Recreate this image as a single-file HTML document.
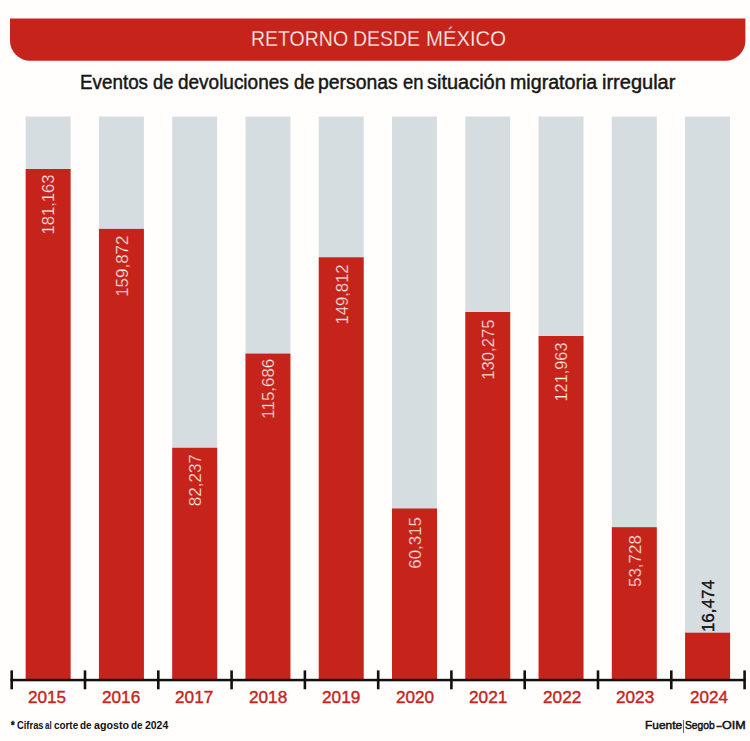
<!DOCTYPE html>
<html lang="es"><head><meta charset="utf-8"><title>Retorno desde México</title>
<style>
html,body{margin:0;padding:0;}
body{width:750px;height:741px;background:#fffefd;position:relative;overflow:hidden;font-family:"Liberation Sans",sans-serif;}
.abs{position:absolute;}
.t{position:absolute;white-space:nowrap;line-height:1;transform-origin:0 0;}
.title{top:28.1px;font-size:22.3px;color:#fff6f0;-webkit-text-stroke:0.3px #c6231b;}
.sub{top:72.7px;font-size:19.6px;color:#161616;-webkit-text-stroke:0.45px #161616;}
.rot{position:absolute;width:0;height:0;transform-origin:0 0;transform:rotate(-90deg);}
.rot span{position:absolute;right:0;top:0;white-space:nowrap;line-height:1;font-size:17.3px;color:#fff6f0;-webkit-text-stroke:0.3px #c6231b;transform-origin:100% 0;}
.rot.k span{color:#111;-webkit-text-stroke:0.45px #111;}
.yr{top:689.1px;font-size:17.4px;color:#c6231b;-webkit-text-stroke:0.4px #c6231b;}
.fn{top:719.8px;font-size:11.5px;font-weight:bold;color:#111;}
.src{top:719.2px;font-size:11.7px;color:#111;-webkit-text-stroke:0.5px #111;}
.pipe{left:682.9px;top:720.0px;width:1.5px;height:12.5px;background:#c6231b;opacity:.85;}

</style></head><body>
<svg class="abs" style="left:0;top:0" width="750" height="741" viewBox="0 0 750 741">
<path d="M10.0 18.4H745.4V40.7A20 20 0 0 1 725.4 60.7H30.0A20 20 0 0 1 10.0 40.7Z" fill="#c6231b"/>
<rect x="25.65" y="116.5" width="45.0" height="53.5" fill="#d6dde0"/>
<rect x="25.65" y="169.0" width="45.0" height="510.3" fill="#c6231b"/>
<rect x="98.92" y="116.5" width="45.0" height="113.4" fill="#d6dde0"/>
<rect x="98.92" y="228.9" width="45.0" height="450.4" fill="#c6231b"/>
<rect x="172.19" y="116.5" width="45.0" height="332.3" fill="#d6dde0"/>
<rect x="172.19" y="447.8" width="45.0" height="231.5" fill="#c6231b"/>
<rect x="245.46" y="116.5" width="45.0" height="238.1" fill="#d6dde0"/>
<rect x="245.46" y="353.6" width="45.0" height="325.7" fill="#c6231b"/>
<rect x="318.73" y="116.5" width="45.0" height="141.8" fill="#d6dde0"/>
<rect x="318.73" y="257.3" width="45.0" height="422.0" fill="#c6231b"/>
<rect x="392.00" y="116.5" width="45.0" height="393.0" fill="#d6dde0"/>
<rect x="392.00" y="508.5" width="45.0" height="170.8" fill="#c6231b"/>
<rect x="465.27" y="116.5" width="45.0" height="196.5" fill="#d6dde0"/>
<rect x="465.27" y="312.0" width="45.0" height="367.3" fill="#c6231b"/>
<rect x="538.54" y="116.5" width="45.0" height="220.5" fill="#d6dde0"/>
<rect x="538.54" y="336.0" width="45.0" height="343.3" fill="#c6231b"/>
<rect x="611.81" y="116.5" width="45.0" height="411.7" fill="#d6dde0"/>
<rect x="611.81" y="527.2" width="45.0" height="152.1" fill="#c6231b"/>
<rect x="685.08" y="116.5" width="45.0" height="517.2" fill="#d6dde0"/>
<rect x="685.08" y="632.7" width="45.0" height="46.6" fill="#c6231b"/>
<rect x="10.4" y="678.8" width="735.5" height="2.5" fill="#111111"/>
<rect x="10.4" y="670.4" width="2.6" height="18.9" fill="#111111"/>
<rect x="83.7" y="670.4" width="2.6" height="18.9" fill="#111111"/>
<rect x="157.0" y="670.4" width="2.6" height="18.9" fill="#111111"/>
<rect x="230.3" y="670.4" width="2.6" height="18.9" fill="#111111"/>
<rect x="303.6" y="670.4" width="2.6" height="18.9" fill="#111111"/>
<rect x="376.9" y="670.4" width="2.6" height="18.9" fill="#111111"/>
<rect x="450.1" y="670.4" width="2.6" height="18.9" fill="#111111"/>
<rect x="523.4" y="670.4" width="2.6" height="18.9" fill="#111111"/>
<rect x="596.7" y="670.4" width="2.6" height="18.9" fill="#111111"/>
<rect x="670.0" y="670.4" width="2.6" height="18.9" fill="#111111"/>
<rect x="743.3" y="670.4" width="2.6" height="18.9" fill="#111111"/>
</svg>
<div><span class="t title" style="left:250.5px;transform:scaleX(0.874)">RETORNO</span> <span class="t title" style="left:353.0px;transform:scaleX(0.872)">DESDE</span> <span class="t title" style="left:425.6px;transform:scaleX(0.910)">MÉXICO</span></div>
<div><span class="t sub" style="left:79.9px;transform:scaleX(0.961)">Eventos</span> <span class="t sub" style="left:153.4px;transform:scaleX(0.935)">de</span> <span class="t sub" style="left:178.1px;transform:scaleX(0.968)">devoluciones</span> <span class="t sub" style="left:293.6px;transform:scaleX(0.945)">de</span> <span class="t sub" style="left:318.4px;transform:scaleX(0.989)">personas</span> <span class="t sub" style="left:402.8px;transform:scaleX(0.939)">en</span> <span class="t sub" style="left:426.8px;transform:scaleX(1.019)">situación</span> <span class="t sub" style="left:510.1px;transform:scaleX(1.002)">migratoria</span> <span class="t sub" style="left:602.3px;transform:scaleX(1.021)">irregular</span></div>
<div class="rot" style="left:40.4px;top:175.4px"><span style="transform:scaleX(0.959)">181,163</span></div>
<div class="rot" style="left:113.7px;top:235.6px"><span style="transform:scaleX(0.981)">159,872</span></div>
<div class="rot" style="left:186.9px;top:454.4px"><span style="transform:scaleX(0.987)">82,237</span></div>
<div class="rot" style="left:260.2px;top:359.4px"><span style="transform:scaleX(0.978)">115,686</span></div>
<div class="rot" style="left:333.5px;top:265.4px"><span style="transform:scaleX(0.961)">149,812</span></div>
<div class="rot" style="left:406.8px;top:517.1px"><span style="transform:scaleX(0.974)">60,315</span></div>
<div class="rot" style="left:480.0px;top:319.7px"><span style="transform:scaleX(0.965)">130,275</span></div>
<div class="rot" style="left:553.3px;top:343.3px"><span style="transform:scaleX(0.943)">121,963</span></div>
<div class="rot" style="left:626.6px;top:534.7px"><span style="transform:scaleX(0.981)">53,728</span></div>
<div class="rot k" style="left:699.8px;top:579.7px"><span style="transform:scaleX(0.983)">16,474</span></div>
<div><span class="t yr" style="left:28.0px;transform:scaleX(0.986)">2015</span> <span class="t yr" style="left:101.5px;transform:scaleX(0.987)">2016</span> <span class="t yr" style="left:175.0px;transform:scaleX(0.990)">2017</span> <span class="t yr" style="left:248.5px;transform:scaleX(0.987)">2018</span> <span class="t yr" style="left:322.0px;transform:scaleX(0.989)">2019</span> <span class="t yr" style="left:395.5px;transform:scaleX(0.985)">2020</span> <span class="t yr" style="left:469.0px;transform:scaleX(0.990)">2021</span> <span class="t yr" style="left:542.5px;transform:scaleX(0.990)">2022</span> <span class="t yr" style="left:616.0px;transform:scaleX(0.987)">2023</span> <span class="t yr" style="left:689.5px;transform:scaleX(0.981)">2024</span></div>
<div><span class="t fn" style="-webkit-text-stroke:0.5px #111;left:11.0px;transform:scaleX(0.767)">*</span> <span class="t fn" style="left:16.6px;transform:scaleX(0.815)">Cifras</span> <span class="t fn" style="left:45.2px;transform:scaleX(0.687)">al</span> <span class="t fn" style="left:53.8px;transform:scaleX(0.858)">corte</span> <span class="t fn" style="left:79.6px;transform:scaleX(0.860)">de</span> <span class="t fn" style="left:93.7px;transform:scaleX(0.927)">agosto</span> <span class="t fn" style="left:130.8px;transform:scaleX(0.860)">de</span> <span class="t fn" style="left:144.6px;transform:scaleX(0.908)">2024</span></div>
<div><span class="t src" style="left:644.9px;transform:scaleX(1.019)">Fuente</span><i class="abs pipe"></i><span class="t src" style="left:685.4px;transform:scaleX(0.881)">Segob</span><span class="t src" style="left:715.8px;transform:scaleX(1.575)">-</span><span class="t src" style="left:722.3px;transform:scaleX(1.069)">OIM</span></div>
</body></html>
